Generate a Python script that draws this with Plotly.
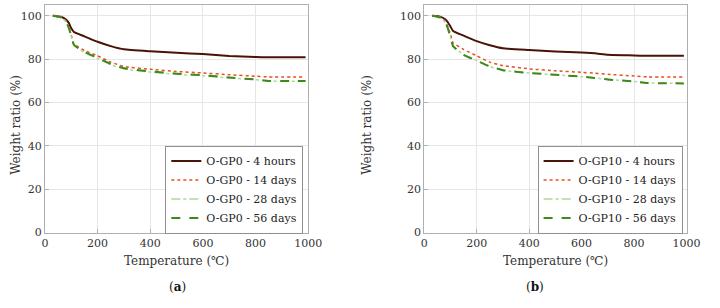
import plotly.graph_objects as go

# Panel (a) O-GP0
temp_a = [30, 60, 80, 90, 100, 110, 150, 200, 250, 300, 400, 500, 600, 700, 800, 850, 990]
a_4h  = [100, 99.5, 98.2, 96.8, 94.2, 92.5, 90.5, 88.0, 86.0, 84.5, 83.6, 82.9, 82.3, 81.4, 81.0, 80.8, 80.8]
a_14d = [100, 99.4, 97.6, 95.0, 91.0, 87.0, 84.0, 81.5, 78.6, 76.6, 75.3, 74.3, 73.6, 72.8, 72.1, 71.8, 71.8]
a_28d = [100, 99.3, 97.2, 94.5, 90.5, 86.5, 83.0, 80.3, 77.4, 75.5, 74.0, 73.0, 72.3, 71.3, 70.5, 69.8, 69.8]
a_56d = [100, 99.3, 97.3, 94.6, 90.6, 86.6, 83.3, 80.6, 77.8, 75.8, 74.3, 73.3, 72.6, 71.5, 70.6, 69.9, 69.9]

# Panel (b) O-GP10
temp_b = [30, 60, 80, 90, 100, 110, 150, 200, 250, 300, 400, 500, 600, 650, 700, 800, 850, 990]
b_4h  = [100, 99.6, 98.4, 97.0, 95.0, 93.0, 90.8, 88.3, 86.4, 85.0, 84.2, 83.5, 83.0, 82.7, 82.0, 81.7, 81.5, 81.5]
b_14d = [100, 99.4, 97.5, 95.0, 91.5, 87.5, 84.5, 81.5, 78.6, 77.0, 75.5, 74.6, 73.9, 73.5, 73.0, 72.2, 71.8, 71.8]
b_28d = [100, 99.2, 97.0, 94.3, 90.0, 86.0, 82.0, 79.3, 76.6, 74.9, 73.6, 72.8, 71.9, 71.3, 70.6, 69.7, 69.0, 68.8]
b_56d = [100, 99.2, 97.0, 94.3, 90.0, 86.0, 82.0, 79.3, 76.6, 74.9, 73.6, 72.8, 71.9, 71.3, 70.6, 69.7, 69.0, 68.8]

labels_suffix = ["4 hours", "14 days", "28 days", "56 days"]
colors = ["#4a1208", "#e8501e", "#a8dc94", "#3c8a1c"]
dashes = ["solid", "dot", "dashdot", "dash"]
widths = [2.0, 1.5, 1.5, 2.0]

FONT = "DejaVu Serif"

fig = go.Figure()

for i, ys in enumerate([a_4h, a_14d, a_28d, a_56d]):
    fig.add_trace(go.Scatter(x=temp_a, y=ys, mode="lines",
                             name=f"O-GP0 - {labels_suffix[i]}",
                             line=dict(color=colors[i], dash=dashes[i], width=widths[i], shape="spline", smoothing=0.4),
                             xaxis="x", yaxis="y", legend="legend"))
for i, ys in enumerate([b_4h, b_14d, b_28d, b_56d]):
    fig.add_trace(go.Scatter(x=temp_b, y=ys, mode="lines",
                             name=f"O-GP10 - {labels_suffix[i]}",
                             line=dict(color=colors[i], dash=dashes[i], width=widths[i], shape="spline", smoothing=0.4),
                             xaxis="x2", yaxis="y2", legend="legend2"))

axis_common = dict(
    showgrid=True, gridcolor="#e6e6e6", gridwidth=1,
    showline=True, linecolor="#b0b0b0", linewidth=1, mirror=True,
    ticks="inside", ticklen=4, tickcolor="#b0b0b0",
    tickfont=dict(family=FONT, size=11, color="#333333"),
    zeroline=False,
)

ydom = [70 / 308, 303 / 308]
legend_common = dict(bgcolor="white", bordercolor="#909090", borderwidth=1,
                     tracegroupgap=0, itemwidth=30,
                     font=dict(family=FONT, size=11, color="#222222"),
                     y=(308 - 239) / 308, yanchor="bottom", xanchor="right")
fig.update_layout(
    width=720, height=308,
    margin=dict(l=0, r=0, t=0, b=0),
    paper_bgcolor="white", plot_bgcolor="white",
    font=dict(family=FONT, size=11, color="#333333"),
    xaxis=dict(domain=[42 / 720, 312 / 720], range=[0, 1000], dtick=200, anchor="y", **axis_common),
    yaxis=dict(domain=ydom, range=[0, 105], tickvals=[0, 20, 40, 60, 80, 100], anchor="x", **axis_common),
    xaxis2=dict(domain=[431 / 720, 700 / 720], range=[0, 1000], dtick=200, anchor="y2", **axis_common),
    yaxis2=dict(domain=ydom, range=[0, 105], tickvals=[0, 20, 40, 60, 80, 100], anchor="x2", **axis_common),
    legend=dict(x=307 / 720, **legend_common),
    legend2=dict(x=696 / 720, **legend_common),
    showlegend=True,
)

annots = [
    dict(text="Temperature (℃)", x=(42 + 312) / 2 / 720, y=(308 - 267) / 308),
    dict(text="Temperature (℃)", x=(431 + 700) / 2 / 720, y=(308 - 267) / 308),
    dict(text="(<b>a</b>)", x=178 / 720, y=(308 - 294) / 308),
    dict(text="(<b>b</b>)", x=545 / 720, y=(308 - 294) / 308),
]
for a in annots:
    fig.add_annotation(text=a["text"], x=a["x"], y=a["y"], xref="paper", yref="paper",
                       showarrow=False, xanchor="center", yanchor="middle",
                       font=dict(family=FONT, size=12, color="#333333" if "Temp" in a["text"] else "#111111"))
for xp in [12, 372]:
    fig.add_annotation(text="Weight ratio (%)", x=xp / 720, y=(308 - 128) / 308, xref="paper", yref="paper",
                       showarrow=False, textangle=-90, xanchor="center", yanchor="middle",
                       font=dict(family=FONT, size=12, color="#333333"))

fig.write_html("out.html")
